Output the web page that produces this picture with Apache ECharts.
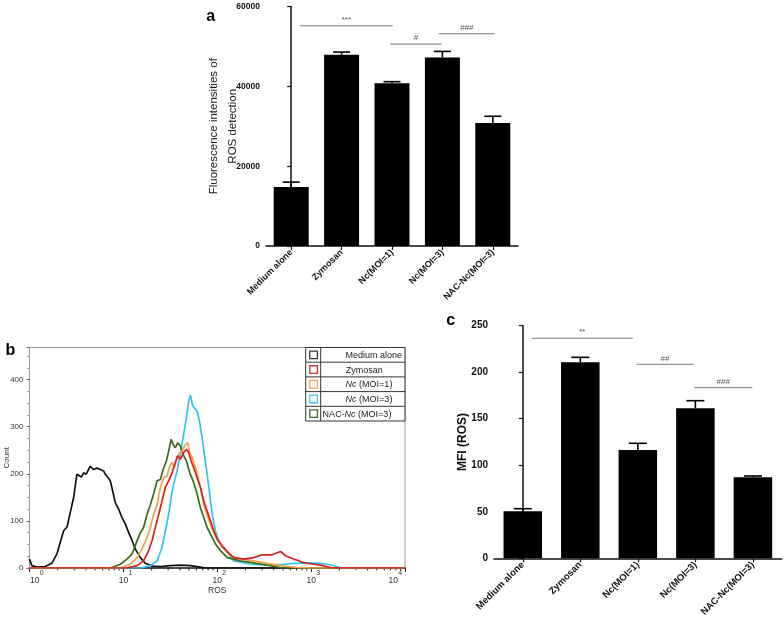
<!DOCTYPE html>
<html><head><meta charset="utf-8">
<script src="https://cdn.jsdelivr.net/npm/echarts@6/dist/echarts.min.js"></script>
<style>html,body{margin:0;padding:0;background:#fff}#c{width:784px;height:630px}</style>
</head><body><div id="c"></div>
<script>
// ---------------- data ----------------
const categories = ['Medium alone', 'Zymosan', 'Nc(MOI=1)', 'Nc(MOI=3)', 'NAC-Nc(MOI=3)'];
const rosMean = [14750, 47900, 40750, 47250, 30800];
const rosSem = [1250, 680, 420, 1500, 1700];
const mfiMean = [50.5, 210.7, 116.4, 161.2, 87.1];
const mfiSem = [2.8, 5.3, 7.2, 8.2, 1.4];
// significance brackets: [from, to (category units), height]
const sigA = [[0.175, 2.014, 55175], [1.96, 2.99, 50575], [2.93, 4.04, 53175]];
const sigALabels = ['***', '#', '###'];
const sigC = [[0.156, 1.912, 236.5], [1.98, 2.966, 208.5], [2.978, 3.99, 183.4]];
const sigCLabels = ['**', '##', '###'];

const histNames = ['Medium alone', 'Zymosan', 'Nc (MOI=1)', 'Nc (MOI=3)', 'NAC-Nc (MOI=3)'];
const histMedium = [[1,19],[1.06,5],[1.2,2],[1.47,3],[1.73,10],[1.96,30],[2.12,54],[2.31,79],[2.51,87],[2.72,118],[2.95,149],[3.2,199],[3.33,202],[3.56,193],[3.77,202],[4.02,199],[4.44,216],[4.82,209],[5.24,212],[5.68,209],[6.15,206],[6.42,199],[6.86,192],[7.26,185],[7.68,164],[8.2,139],[8.9,125],[9.68,107],[10.5,93],[11.4,75],[12.4,58],[13.4,40],[15.2,22],[17.1,10],[20.2,4],[24.8,3],[31.6,5],[40.5,6],[51.8,5],[66,2],[75,0],[10000,0]];
const histZymosan = [[1,0],[10.9,0],[14,5],[16.4,15],[18.6,37],[20.2,58],[21.9,86],[23.8,114],[25.8,142],[28,171],[30.4,185],[33,202],[35.8,224],[37.9,238],[40.5,231],[43.9,245],[46.9,252],[49.6,245],[52.7,227],[56.1,213],[61,192],[66.2,171],[71.8,142],[78,121],[84.6,100],[91.8,79],[99.8,61],[113,47],[128,35],[150,22],[192,19],[245,22],[301,28],[385,28],[472,35],[534,26],[655,19],[837,11],[1070,8],[1262,6],[1615,1],[2063,0],[10000,0]];
const histNc1 = [[1,0],[9.28,0],[11.8,8],[14,22],[15.8,40],[17.9,65],[19.4,86],[21,114],[22.9,135],[24.8,171],[26.9,192],[29.2,195],[31.1,216],[33,224],[34.9,213],[37.3,234],[39.8,245],[42.2,248],[45.8,262],[48.4,266],[50.9,245],[54,234],[57.1,220],[61,202],[66.2,171],[71.8,135],[78,111],[84.6,93],[91.8,75],[99.8,61],[113,44],[128,33],[138,26],[177,19],[243,15],[340,10],[472,5],[712,1],[986,0],[10000,0]];
const histNc3 = [[1,0],[15.2,0],[19.4,5],[22.9,15],[25.8,44],[28,79],[30.4,114],[32.5,153],[34.3,178],[37.3,206],[40.5,241],[43.9,284],[46.9,319],[49.6,354],[51.8,367],[54.8,344],[57.5,340],[61,333],[64.6,312],[69,276],[73,241],[78,199],[83.2,157],[88.2,114],[95.7,79],[104,58],[113,44],[128,33],[150,15],[226,8],[340,6],[500,8],[655,10],[986,11],[1250,10],[1486,8],[2063,1],[2300,0],[10000,0]];
const histNAC = [[1,0],[7.26,0],[9.28,8],[10.9,19],[12.4,30],[14,58],[15.2,75],[16.4,86],[17.9,114],[19.4,135],[21,157],[22.9,185],[24.8,188],[26.5,209],[28.7,227],[30.4,248],[32.2,273],[33.9,262],[35.8,255],[37.9,266],[40.5,259],[43.3,241],[46.9,227],[50.9,202],[55.3,185],[61,157],[66.2,128],[71.8,107],[78,86],[84.6,72],[95.7,51],[108,37],[128,22],[177,15],[226,12],[340,6],[472,1],[604,0],[10000,0]];
const rosMajorTicks = [1, 10, 100, 1000, 10000];
const rosMinorTicks = [2,3,4,5,6,7,8,9,20,30,40,50,60,70,80,90,200,300,400,500,600,700,800,900,2000,3000,4000,5000,6000,7000,8000,9000];

// ---------------- styles / layout ----------------
const FONT = '"Liberation Sans", Arial, Helvetica, sans-serif';
const histColors = ['#111111', '#d42222', '#f5a04c', '#33c3f0', '#3d6a14'];
const legendColors = ['#333333', '#c83333', '#f2a454', '#45c2ee', '#3f6a22'];
const legendTextX = [373.7, 364.3, 369, 369, 357];
const legendRich = ['Medium alone', 'Zymosan', '{i|Nc} (MOI=1)', '{i|Nc} (MOI=3)', 'NAC-{i|Nc} (MOI=3)'];
const GB = { left: 29.5, top: 347.5, width: 375.5, height: 220.5 };

function errRender(hw) {
  return function (params, api) {
    const i = api.value(0), lo = api.value(1), hi = api.value(2);
    const b = api.coord([i, lo]), t = api.coord([i, hi]);
    return { type: 'group', children: [
      { type: 'line', shape: { x1: b[0], y1: b[1], x2: t[0], y2: t[1] }, style: { stroke: '#000', lineWidth: 1.6 } },
      { type: 'line', shape: { x1: t[0] - hw, y1: t[1], x2: t[0] + hw, y2: t[1] }, style: { stroke: '#000', lineWidth: 1.6 } }
    ] };
  };
}
function sigRender(labels) {
  return function (params, api) {
    const y = api.value(2);
    const p1 = api.coord([api.value(0), y]), p2 = api.coord([api.value(1), y]);
    return { type: 'group', children: [
      { type: 'line', shape: { x1: p1[0], y1: p1[1], x2: p2[0], y2: p2[1] }, style: { stroke: '#7a7a7a', lineWidth: 1 } },
      { type: 'text', style: { text: labels[params.dataIndex], x: (p1[0] + p2[0]) / 2, y: p1[1] - 2,
        align: 'center', verticalAlign: 'bottom', textAlign: 'center', textVerticalAlign: 'bottom',
        fill: '#555', font: '8px ' + FONT } }
    ] };
  };
}
function minorTickRender(params, api) {
  const p = api.coord([api.value(0), 0]);
  return { type: 'line', shape: { x1: p[0], y1: p[1], x2: p[0], y2: p[1] + 2.5 }, style: { stroke: '#222', lineWidth: 1 } };
}
// log tick labels "10" with superscript exponent
function powerLabelRender(params, api) {
  const v = api.value(0);
  const p = api.coord([v, 0]);
  let anchor = p[0] + 4.8;
  anchor = Math.max(anchor, GB.left + 10);
  anchor = Math.min(anchor, GB.left + GB.width - 7);
  const e = String(Math.round(Math.log10(v)));
  return { type: 'group', children: [
    { type: 'text', style: { text: '10', x: anchor, y: p[1] + 12.5, align: 'right', verticalAlign: 'middle',
      textAlign: 'right', textVerticalAlign: 'middle', fill: '#333', font: '8.5px ' + FONT } },
    { type: 'text', style: { text: e, x: anchor + 0.3, y: p[1] + 5.5, align: 'left', verticalAlign: 'middle',
      textAlign: 'left', textVerticalAlign: 'middle', fill: '#333', font: '7px ' + FONT } }
  ] };
}

const catAxisCommon = {
  type: 'category', data: categories, boundaryGap: true,
  axisLine: { show: true, lineStyle: { color: '#111', width: 1.5 } },
  axisTick: { show: true, alignWithLabel: true, length: 4, lineStyle: { color: '#111', width: 1.2 } },
  axisLabel: { rotate: 45, interval: 0, margin: 5, fontFamily: FONT, fontWeight: 'bold', fontSize: 9, color: '#111' },
  splitLine: { show: false }
};

// legend table graphics
const legL = 305.7, legR = 405, legT = 347.5, rowH = 14.7, legDiv = 320.7;
const graphics = [];
graphics.push({ type: 'rect', shape: { x: legL, y: legT, width: legR - legL, height: rowH * 5 }, style: { fill: '#fff', stroke: '#333', lineWidth: 1 }, z: 100 });
graphics.push({ type: 'line', shape: { x1: legDiv, y1: legT, x2: legDiv, y2: legT + rowH * 5 }, style: { stroke: '#333', lineWidth: 1 }, z: 101 });
for (let r = 0; r < 5; r++) {
  const cy = legT + rowH * r + rowH / 2;
  if (r > 0) graphics.push({ type: 'line', shape: { x1: legL, y1: legT + rowH * r, x2: legR, y2: legT + rowH * r }, style: { stroke: '#333', lineWidth: 1 }, z: 101 });
  graphics.push({ type: 'rect', shape: { x: 309.8, y: cy - 3.8, width: 7.6, height: 7.6 }, style: { fill: '#fff', stroke: legendColors[r], lineWidth: 1.3 }, z: 102 });
  graphics.push({ type: 'text', z: 102, style: { text: legendRich[r], x: legendTextX[r], y: cy + 0.5,
    align: 'center', verticalAlign: 'middle', textAlign: 'center', textVerticalAlign: 'middle',
    fill: '#222', font: '9px ' + FONT, rich: { i: { fontStyle: 'italic', fontSize: 9, fontFamily: FONT, fill: '#222' } } } });
}
[['a', 210.7, 17], ['b', 10.5, 350.5], ['c', 450.7, 320.5]].forEach(function (p) {
  graphics.push({ type: 'text', z: 102, style: { text: p[0], x: p[1], y: p[2], align: 'center', verticalAlign: 'middle',
    textAlign: 'center', textVerticalAlign: 'middle', fill: '#000', font: 'bold 16px ' + FONT } });
});

const histData = [histMedium, histZymosan, histNc1, histNc3, histNAC];
const drawOrder = [0, 3, 4, 2, 1];

const option = {
  animation: false,
  backgroundColor: '#fff',
  textStyle: { fontFamily: FONT },
  grid: [
    { left: 266, top: 6.5, width: 252, height: 239.5 },
    { left: GB.left, top: GB.top, width: GB.width, height: GB.height, show: true, borderColor: '#999', borderWidth: 1, backgroundColor: 'transparent' },
    { left: 494, top: 325.7, width: 287.7, height: 232.6 }
  ],
  xAxis: [
    Object.assign({}, catAxisCommon, { gridIndex: 0 }),
    { type: 'value', gridIndex: 0, min: -0.5, max: 4.5, show: false },
    { type: 'log', logBase: 10, gridIndex: 1, min: 1, max: 10000,
      name: 'ROS', nameLocation: 'middle', nameGap: 18, nameMoveOverlap: false,
      nameTextStyle: { fontFamily: FONT, fontSize: 8.5, color: '#333' },
      axisLine: { show: true, onZero: false, lineStyle: { color: '#222', width: 1.5 } },
      axisTick: { show: true, length: 4, lineStyle: { color: '#222', width: 1 } },
      splitLine: { show: false }, minorTick: { show: false },
      axisLabel: { show: false } },
    Object.assign({}, catAxisCommon, { gridIndex: 2, axisLabel: Object.assign({}, catAxisCommon.axisLabel, { fontSize: 9.5 }) }),
    { type: 'value', gridIndex: 2, min: -0.5, max: 4.5, show: false }
  ],
  yAxis: [
    { type: 'value', gridIndex: 0, min: 0, max: 60000, interval: 20000,
      name: 'Fluorescence intensities of\nROS detection', nameLocation: 'middle', nameGap: 24, nameRotate: 90, nameMoveOverlap: false,
      nameTextStyle: { fontFamily: FONT, fontSize: 11.5, lineHeight: 19, color: '#222' },
      axisLine: { show: true, lineStyle: { color: '#111', width: 1.5 } },
      axisTick: { show: true, length: 4, lineStyle: { color: '#111', width: 1.2 } },
      axisLabel: { margin: 6, fontFamily: FONT, fontWeight: 'bold', fontSize: 8.5, color: '#111',
        formatter: function (v) { return String(v); } },
      splitLine: { show: false } },
    { type: 'value', gridIndex: 1, min: 0, max: 468, interval: 100,
      name: 'Count', nameLocation: 'middle', nameGap: 19, nameRotate: 90, nameMoveOverlap: false,
      nameTextStyle: { fontFamily: FONT, fontSize: 8, color: '#333' },
      axisLine: { show: true, lineStyle: { color: '#999', width: 1 } },
      axisTick: { show: true, length: 3, lineStyle: { color: '#666', width: 1 } },
      minorTick: { show: true, splitNumber: 4, length: 2, lineStyle: { color: '#888', width: 1 } },
      axisLabel: { margin: 6, fontFamily: FONT, fontSize: 8, color: '#333', showMaxLabel: false,
        formatter: function (v) { return v % 100 === 0 ? String(v) : ''; } },
      splitLine: { show: false } },
    { type: 'value', gridIndex: 2, min: 0, max: 250, interval: 50,
      name: 'MFI (ROS)', nameLocation: 'middle', nameGap: 25, nameRotate: 90, nameMoveOverlap: false,
      nameTextStyle: { fontFamily: FONT, fontSize: 12, fontWeight: 'bold', color: '#111' },
      axisLine: { show: true, lineStyle: { color: '#111', width: 1.5 } },
      axisTick: { show: true, length: 4, lineStyle: { color: '#111', width: 1.2 } },
      axisLabel: { margin: 6, fontFamily: FONT, fontWeight: 'bold', fontSize: 10, color: '#111' },
      splitLine: { show: false } }
  ],
  graphic: graphics,
  series: [
    { type: 'bar', xAxisIndex: 0, yAxisIndex: 0, data: rosMean, barWidth: 35, itemStyle: { color: '#000' } },
    { type: 'custom', xAxisIndex: 0, yAxisIndex: 0, renderItem: errRender(8.5), clip: false,
      data: rosMean.map(function (m, i) { return [i, m, m + rosSem[i]]; }) },
    { type: 'custom', xAxisIndex: 1, yAxisIndex: 0, renderItem: sigRender(sigALabels), clip: false, data: sigA },
    { type: 'bar', xAxisIndex: 3, yAxisIndex: 2, data: mfiMean, barWidth: 38.5, itemStyle: { color: '#000' } },
    { type: 'custom', xAxisIndex: 3, yAxisIndex: 2, renderItem: errRender(9), clip: false,
      data: mfiMean.map(function (m, i) { return [i, m, m + mfiSem[i]]; }) },
    { type: 'custom', xAxisIndex: 4, yAxisIndex: 2, renderItem: sigRender(sigCLabels), clip: false, data: sigC },
    { type: 'custom', xAxisIndex: 2, yAxisIndex: 1, renderItem: minorTickRender, clip: false, silent: true,
      data: rosMinorTicks.map(function (v) { return [v, 0]; }) },
    { type: 'custom', xAxisIndex: 2, yAxisIndex: 1, renderItem: powerLabelRender, clip: false, silent: true,
      data: rosMajorTicks.map(function (v) { return [v, 0]; }) }
  ].concat(drawOrder.map(function (k) {
    return { type: 'line', name: histNames[k], xAxisIndex: 2, yAxisIndex: 1, data: histData[k],
      showSymbol: false, symbol: 'none', smooth: false, clip: true,
      lineStyle: { color: histColors[k], width: 1.7 }, itemStyle: { color: histColors[k] } };
  }))
};
const chart = echarts.init(document.getElementById('c'), null, { renderer: 'canvas' });
chart.setOption(option);
</script></body></html>
